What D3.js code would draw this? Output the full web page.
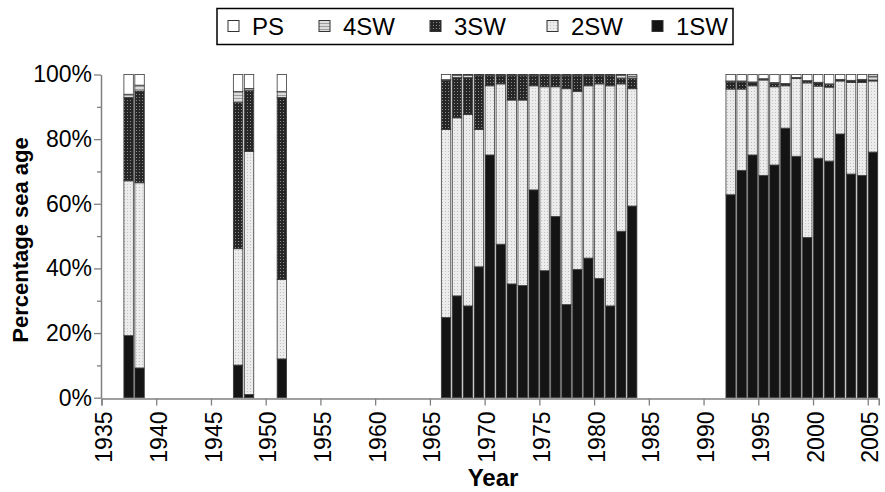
<!DOCTYPE html>
<html>
<head>
<meta charset="utf-8">
<script src="https://cdn.jsdelivr.net/npm/d3@7"></script>
<style>
  body { margin: 0; background: #fff; }
  text { font-family: "Liberation Sans", Arial, Helvetica, sans-serif; }
</style>
</head>
<body>
<script>
// data (percent of each sea age class per year)
var years = [1937, 1938, 1947, 1948, 1951,
  1966, 1967, 1968, 1969, 1970, 1971, 1972, 1973, 1974, 1975, 1976, 1977, 1978, 1979, 1980, 1981, 1982, 1983,
  1992, 1993, 1994, 1995, 1996, 1997, 1998, 1999, 2000, 2001, 2002, 2003, 2004, 2005];
var sw1 = [19.2, 9.2, 10.1, 1.0, 12.0,
  24.8, 31.5, 28.4, 40.5, 75.1, 47.5, 35.2, 34.7, 64.3, 39.3, 56.1, 28.8, 39.7, 43.2, 36.9, 28.4, 51.5, 59.3,
  62.8, 70.3, 75.1, 68.8, 72.0, 83.4, 74.7, 49.6, 74.1, 73.2, 81.6, 69.2, 68.8, 76.0];
var sw2 = [47.9, 57.3, 36.0, 75.2, 24.6,
  58.2, 55.1, 59.2, 42.5, 21.4, 49.6, 56.9, 57.4, 32.2, 56.9, 40.1, 66.8, 55.0, 53.3, 60.2, 68.1, 45.6, 36.3,
  32.7, 25.2, 21.4, 29.5, 24.2, 13.1, 24.1, 47.8, 22.3, 22.9, 16.4, 28.3, 28.7, 22.0];
var sw3 = [25.8, 28.4, 45.2, 18.8, 56.3,
  15.2, 12.4, 11.4, 16.6, 3.1, 2.5, 7.5, 7.5, 3.1, 3.4, 3.4, 4.0, 4.9, 3.1, 2.5, 3.1, 1.7, 3.2,
  2.2, 2.2, 1.0, 0.3, 1.0, 0.6, 0.2, 0.6, 1.0, 0.8, 0.4, 0.5, 0.8, 0.3];
var sw4 = [1.0, 1.8, 3.4, 0.7, 1.8,
  0.2, 0.8, 0.8, 0.2, 0.2, 0.2, 0.2, 0.2, 0.2, 0.2, 0.2, 0.2, 0.2, 0.2, 0.2, 0.2, 1.0, 0.7,
  0.3, 0.3, 0.2, 0.1, 0.3, 0.1, 0.1, 0.1, 0.2, 0.2, 0.1, 0.2, 0.2, 1.2];
var ps = [6.1, 3.3, 5.3, 4.3, 5.3,
  1.6, 0.2, 0.2, 0.2, 0.2, 0.2, 0.2, 0.2, 0.2, 0.2, 0.2, 0.2, 0.2, 0.2, 0.2, 0.2, 0.2, 0.5,
  2.0, 2.0, 2.3, 1.3, 2.5, 2.8, 0.9, 1.9, 2.4, 2.9, 1.5, 1.8, 1.5, 0.5];
var keys = ["1SW", "2SW", "3SW", "4SW", "PS"];
var legendOrder = ["PS", "4SW", "3SW", "2SW", "1SW"];
var yTicks = [0, 10, 20, 30, 40, 50, 60, 70, 80, 90, 100];
var xTicks = [1935, 1940, 1945, 1950, 1955, 1960, 1965, 1970, 1975, 1980, 1985, 1990, 1995, 2000, 2005];

var rows = years.map(function(yr, i) {
  return { year: yr, "1SW": sw1[i], "2SW": sw2[i], "3SW": sw3[i], "4SW": sw4[i], "PS": ps[i] };
});

var W = 885, H = 492;
var svg = d3.select("body").append("svg").attr("width", W).attr("height", H);

// patterns
var defs = svg.append("defs");
var p2 = defs.append("pattern").attr("id", "p2SW").attr("patternUnits", "userSpaceOnUse").attr("width", 3).attr("height", 3);
p2.append("rect").attr("width", 3).attr("height", 3).attr("fill", "#ececec");
p2.append("rect").attr("x", 1).attr("y", 1).attr("width", 1).attr("height", 1).attr("fill", "#c2c2c2");
var p3 = defs.append("pattern").attr("id", "p3SW").attr("patternUnits", "userSpaceOnUse").attr("width", 3).attr("height", 3);
p3.append("rect").attr("width", 3).attr("height", 3).attr("fill", "#262626");
p3.append("rect").attr("x", 1).attr("y", 1).attr("width", 1).attr("height", 1).attr("fill", "#8c8c8c");
var p4 = defs.append("pattern").attr("id", "p4SW").attr("patternUnits", "userSpaceOnUse").attr("width", 4).attr("height", 3);
p4.append("rect").attr("width", 4).attr("height", 3).attr("fill", "#dcdcdc");
p4.append("rect").attr("y", 2).attr("width", 4).attr("height", 1).attr("fill", "#9c9c9c");

var fills = { "1SW": "#141414", "2SW": "url(#p2SW)", "3SW": "url(#p3SW)", "4SW": "url(#p4SW)", "PS": "#ffffff" };

var x = d3.scaleLinear().domain([1935, 2006]).range([101.5, 878.7]);
var y = d3.scaleLinear().domain([0, 100]).range([397.7, 74.5]);

var stacked = d3.stack().keys(keys)(rows);

// bars
var g = svg.append("g");
stacked.forEach(function(layer) {
  g.append("g").selectAll("rect")
    .data(layer)
    .enter().append("rect")
    .attr("x", function(d) { return x(d.data.year) + 0.5; })
    .attr("width", function(d) { return x(d.data.year + 1) - x(d.data.year) - 1.5; })
    .attr("y", function(d) { return y(d[1]); })
    .attr("height", function(d) { return y(d[0]) - y(d[1]); })
    .attr("fill", fills[layer.key])
    .attr("stroke", "#3a3a3a")
    .attr("stroke-width", 0.8);
});

// y axis
var yAxis = svg.append("g").attr("transform", "translate(101,0)")
  .call(d3.axisLeft(y).tickValues(yTicks).tickSizeOuter(0).tickPadding(3)
    .tickFormat(function(d) { return d % 20 === 0 ? d + "%" : ""; }));
yAxis.select(".domain").attr("stroke", "#808080").attr("stroke-width", 1.5);
yAxis.selectAll(".tick line").attr("stroke", "#808080").attr("stroke-width", 1.3)
  .attr("x2", function(d) { return d % 20 === 0 ? -7 : -4; });
yAxis.selectAll(".tick text").attr("font-size", 23).attr("fill", "#000")
  .attr("font-family", "'Liberation Sans', Arial, sans-serif");

// x axis
var xAxis = svg.append("g").attr("transform", "translate(0,398.5)")
  .call(d3.axisBottom(x).tickValues(xTicks).tickSizeOuter(0).tickSize(7).tickFormat(d3.format("d")));
xAxis.select(".domain").attr("stroke", "#808080").attr("stroke-width", 1.5);
xAxis.selectAll(".tick line").attr("stroke", "#808080").attr("stroke-width", 1.3);
xAxis.selectAll(".tick text")
  .attr("font-size", 23).attr("fill", "#000")
  .attr("font-family", "'Liberation Sans', Arial, sans-serif")
  .attr("transform", "rotate(-90)")
  .attr("text-anchor", "end")
  .attr("x", -13).attr("y", 2).attr("dy", "0.35em");

// axis titles
svg.append("text")
  .attr("transform", "translate(28,240) rotate(-90)")
  .attr("text-anchor", "middle")
  .attr("font-size", 22).attr("font-weight", "bold")
  .text("Percentage sea age");
svg.append("text")
  .attr("x", 493).attr("y", 486)
  .attr("text-anchor", "middle")
  .attr("font-size", 24).attr("font-weight", "bold")
  .text("Year");

// legend
var legend = svg.append("g");
legend.append("rect").attr("x", 217).attr("y", 8.5).attr("width", 516).attr("height", 36)
  .attr("fill", "#fff").attr("stroke", "#000").attr("stroke-width", 1.5);
var legX = { "PS": 228, "4SW": 319, "3SW": 430, "2SW": 547, "1SW": 652 };
legendOrder.forEach(function(k) {
  legend.append("rect").attr("x", legX[k]).attr("y", 20.5).attr("width", 11).attr("height", 11)
    .attr("fill", fills[k]).attr("stroke", "#333").attr("stroke-width", 1);
  legend.append("text").attr("x", legX[k] + 24).attr("y", 35)
    .attr("font-size", 24).text(k);
});
</script>
</body>
</html>
